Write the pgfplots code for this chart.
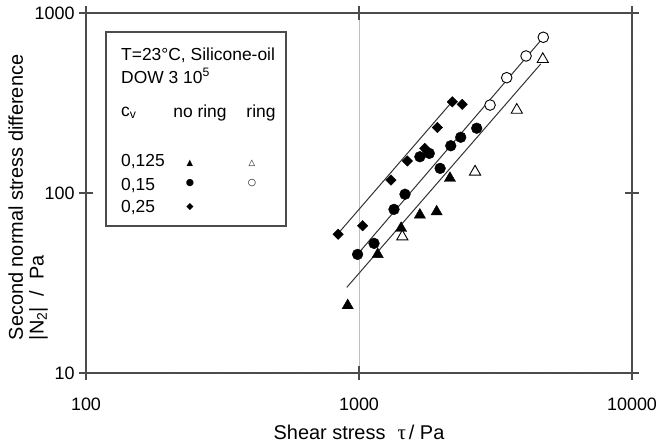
\documentclass[border=0pt]{standalone}
\usepackage{pgfplots}
\pgfplotsset{compat=1.18}
\usepackage{fontspec}
\setmainfont{Liberation Sans}
\newfontfamily\symfont{DejaVu Sans}
\newfontfamily\seriffont{Liberation Serif}

\begin{document}
\begin{tikzpicture}[x=1bp,y=1bp]
\begin{axis}[
  at={(0,0)}, anchor=south west,
  scale only axis, width=546bp, height=360bp,
  xmode=log, ymode=log,
  xmin=100, xmax=10000, ymin=10, ymax=1000,
  xtick={100,1000,10000}, xticklabels={100,1000,10000},
  ytick={10,100,1000}, yticklabels={10,100,1000},
  minor xtick={}, minor ytick={},
  xmajorgrids, grid style={black!25, line width=0.6bp},
  axis line style={black!70, line width=1.3bp},
  tick style={black!70, line width=1.1bp},
  tick align=center, major tick length=14bp,
  xticklabel style={font=\fontsize{18}{20}\selectfont, yshift=-14bp},
  yticklabel style={font=\fontsize{18}{20}\selectfont, xshift=-1bp},
  xlabel={Shear stress\hspace{12bp}{\seriffont\fontsize{21}{22}\selectfont τ}\hspace{3bp}/ Pa},
  xlabel style={font=\fontsize{20}{22}\selectfont, at={(axis description cs:0.5,-0.164)}, anchor=center},
  ylabel={Second normal stress difference\\|N\textsubscript{2}|\ \ /\ \ Pa},
  ylabel style={font=\fontsize{20}{21}\selectfont, align=left, at={(axis description cs:-0.106,0.4875)}, anchor=center},
]
% fit lines
\addplot[black!80, line width=1bp, no marks] coordinates {(850,61) (2210,326)};
\addplot[black!80, line width=1bp, no marks] coordinates {(1014,47.8) (4800,750)};
\addplot[black!80, line width=1bp, no marks] coordinates {(902,29.9) (4630,521)};
% c_v = 0.25, no ring
\addplot[only marks, mark=square*, mark size=3.7bp, mark options={rotate=45, fill=black, draw=black}] coordinates {
 (839,59.0) (1031,65.8) (1309,118) (1503,150.6) (1740,177) (1936,231) (2197,321) (2388,311)};
% c_v = 0.15, no ring
\addplot[only marks, mark=*, mark size=5.4bp, mark options={fill=black, draw=black}] coordinates {
 (988,45.6) (1135,52.5) (1343,81.1) (1474,98.4) (1671,159) (1809,166) (1982,137) (2168,183) (2358,204) (2698,229)};
% c_v = 0.15, ring
\addplot[only marks, mark=*, mark size=5.3bp, mark options={fill=white, draw=black, line width=0.9bp}] coordinates {
 (3020,308) (3475,437) (4091,577) (4731,733)};
% c_v = 0.125, no ring
\addplot[only marks, mark=triangle*, mark size=6.5bp, mark options={fill=black, draw=black}] coordinates {
 (909,23.7) (1171,45.6) (1426,63.7) (1671,75.5) (1925,78.7) (2153,120.8)};
% c_v = 0.125, ring
\addplot[only marks, mark=triangle*, mark size=6.5bp, mark options={fill=white, draw=black, line width=0.9bp}] coordinates {
 (1441,57.2) (2661,131) (3784,289) (4711,553)};
\end{axis}
% legend box
\draw[black!70, line width=1.3bp, fill=white] (20,147) rectangle (200,341);
\begin{scope}[every node/.style={font=\fontsize{17.5}{19}\selectfont, inner sep=0pt}]
\node[anchor=west] at (35,318) {T=23°C, Silicone-oil};
\node[anchor=west] at (35,297) {DOW 3 10\textsuperscript{5}};
\node[anchor=west] at (35,260) {c\textsubscript{v}};
\node[anchor=center] at (114,260) {no ring};
\node[anchor=center] at (175,260) {ring};
\node[anchor=west] at (35,211) {0,125};
\node[anchor=west] at (35,187) {0,15};
\node[anchor=west] at (35,165) {0,25};
\node at (104,210) {\symfont\fontsize{8.5}{8.5}\selectfont ▲};
\node at (166,210) {\symfont\fontsize{8.5}{8.5}\selectfont △};
\node at (104,190) {\symfont\fontsize{9.5}{9.5}\selectfont ●};
\node at (166,190) {\symfont\fontsize{9.5}{9.5}\selectfont ○};
\node at (104,166) {\symfont\fontsize{9.5}{9.5}\selectfont ◆};
\end{scope}
\pgfresetboundingbox
\path[use as bounding box] (-86,-72) rectangle (572,373);
\end{tikzpicture}
\end{document}
